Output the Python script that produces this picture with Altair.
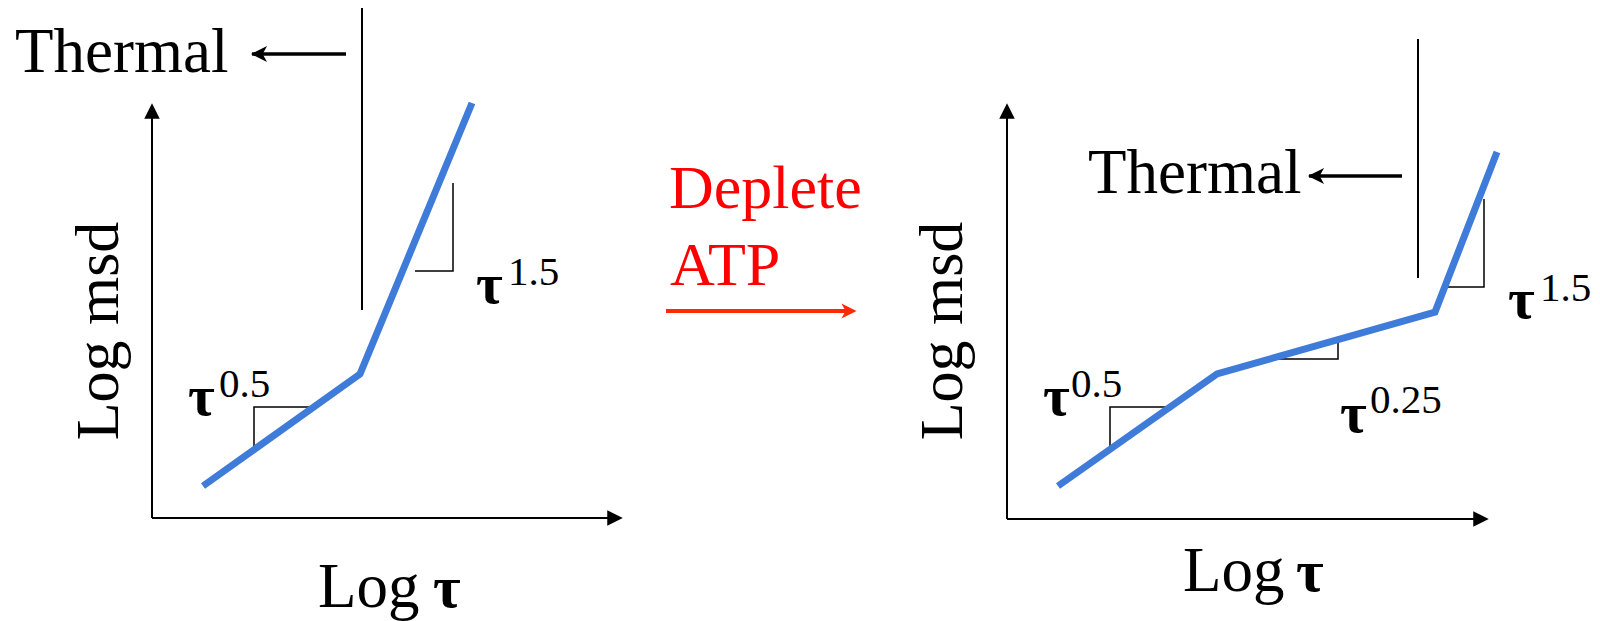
import altair as alt
import pandas as pd

# ---------------- figure frame (pixel-like figure units) ----------------
W, H, M = 1600, 621, 8

# ---------------- data ----------------
# blue MSD curves (Log tau, Log msd) in figure units
curve_id = ["left"] * 3 + ["right"] * 4
curve_x = [203, 360, 472, 1058, 1217, 1435, 1497]
curve_y = [486, 374, 103, 486, 374, 312, 152]

# axes (start -> arrow tip)
axis_x1 = [152, 152, 1007, 1007]
axis_y1 = [518, 518, 519, 519]
axis_x2 = [152, 614, 1007, 1480]
axis_y2 = [112, 518, 112, 519]

# thermal boundary lines
bound_x = [362, 1418]
bound_y1 = [7, 39]
bound_y2 = [310, 278]

# slope triangles (polylines)
tri_id = ["a"] * 3 + ["b"] * 3 + ["c"] * 3 + ["d"] * 3 + ["e"] * 3
tri_x = [254, 254, 314, 415, 453, 453, 1110, 1110, 1166, 1278, 1338, 1338, 1447, 1484, 1484]
tri_y = [450, 407, 407, 271, 271, 183, 446, 407, 407, 359, 359, 341, 287, 287, 199]

# "Thermal" arrows (shaft start -> tip)
th_x1 = [346, 1402]
th_x2 = [252, 1309]
th_y = [54, 176]

# Deplete ATP arrow
red_x1 = [666]
red_x2 = [856]
red_y = [311]

# texts
lbl_text = ["Thermal", "Thermal", "Log", "Log"]
lbl_x = [15, 1088, 318, 1183]
lbl_y = [72, 193, 607, 591]

axis_tau_x = [433, 1296]
axis_tau_y = [607, 591]

red_text = ["Deplete", "ATP"]
red_tx = [669, 670]
red_ty = [208, 285]

vlab_text = ["Log msd", "Log msd"]
vlab_x = [118, 962]
vlab_y = [331, 331]

tau_x = [188, 476, 1043, 1508, 1340]
tau_y = [415, 303, 415, 318, 432]
sup_text = ["0.5", "1.5", "0.5", "1.5", "0.25"]
sup_x = [219, 508, 1071, 1540, 1370]
sup_y = [397, 285, 397, 301, 413]

# ---------------- styling ----------------
FONT = "Liberation Serif"
BLUE = "#3F7BD8"

xs = alt.Scale(domain=[M, W - M], nice=False, zero=False)
ys = alt.Scale(domain=[M, H], nice=False, zero=False, reverse=True)


def X(f="x"):
    return alt.X(f"{f}:Q", scale=xs, axis=None)


def Y(f="y"):
    return alt.Y(f"{f}:Q", scale=ys, axis=None)


curves = alt.Chart(pd.DataFrame({"id": curve_id, "x": curve_x, "y": curve_y,
                                 "o": list(range(len(curve_x)))})).mark_line(
    color=BLUE, strokeWidth=7, strokeJoin="miter", strokeCap="butt"
).encode(x=X(), y=Y(), detail="id:N", order="o:Q")

axes = alt.Chart(pd.DataFrame({"x": axis_x1, "y": axis_y1, "x2": axis_x2, "y2": axis_y2})).mark_rule(
    color="black", strokeWidth=2
).encode(x=X(), y=Y(), x2="x2:Q", y2="y2:Q")

bounds = alt.Chart(pd.DataFrame({"x": bound_x, "y": bound_y1, "y2": bound_y2})).mark_rule(
    color="black", strokeWidth=2
).encode(x=X(), y=Y(), y2="y2:Q")

tris = alt.Chart(pd.DataFrame({"id": tri_id, "x": tri_x, "y": tri_y,
                               "o": list(range(len(tri_x)))})).mark_line(
    color="black", strokeWidth=1.5, strokeJoin="miter"
).encode(x=X(), y=Y(), detail="id:N", order="o:Q")

# arrowheads
UP = "M0,-1L1,1L-1,1Z"
RIGHT = "M1,0L-1,-1L-1,1Z"
STEALTH_L = "M-1,0L1,-1L0.45,0L1,1Z"
STEALTH_R = "M1,0L-1,-1L-0.45,0L-1,1Z"

head_up = alt.Chart(pd.DataFrame({"x": [axis_x2[0], axis_x2[2]],
                                  "y": [axis_y2[0] - 1, axis_y2[2] - 1]})).mark_point(
    shape=UP, filled=True, color="black", opacity=1, size=240, strokeWidth=0
).encode(x=X(), y=Y())

head_right = alt.Chart(pd.DataFrame({"x": [axis_x2[1] + 1, axis_x2[3] + 1],
                                     "y": [axis_y2[1], axis_y2[3]]})).mark_point(
    shape=RIGHT, filled=True, color="black", opacity=1, size=240, strokeWidth=0
).encode(x=X(), y=Y())

th_shaft = alt.Chart(pd.DataFrame({"x": th_x1, "x2": th_x2, "y": th_y})).mark_rule(
    color="black", strokeWidth=3.5
).encode(x=X(), x2="x2:Q", y=Y())

th_head = alt.Chart(pd.DataFrame({"x": [v + 7 for v in th_x2], "y": th_y})).mark_point(
    shape=STEALTH_L, filled=True, color="black", opacity=1, size=260, strokeWidth=0
).encode(x=X(), y=Y())

red_shaft = alt.Chart(pd.DataFrame({"x": red_x1, "x2": [v - 8 for v in red_x2], "y": red_y})).mark_rule(
    color="#FF2A00", strokeWidth=4
).encode(x=X(), x2="x2:Q", y=Y())

red_head = alt.Chart(pd.DataFrame({"x": [v - 7 for v in red_x2], "y": red_y})).mark_point(
    shape=STEALTH_R, filled=True, color="#FF2A00", opacity=1, size=230, strokeWidth=0
).encode(x=X(), y=Y())

labels = alt.Chart(pd.DataFrame({"t": lbl_text, "x": lbl_x, "y": lbl_y})).mark_text(
    font=FONT, fontSize=63, align="left", baseline="alphabetic", color="black"
).encode(x=X(), y=Y(), text="t:N")

axis_taus = alt.Chart(pd.DataFrame({"t": ["\u03c4"] * 2, "x": axis_tau_x, "y": axis_tau_y})).mark_text(
    font=FONT, fontSize=60, fontWeight="bold", align="left", baseline="alphabetic", color="black"
).encode(x=X(), y=Y(), text="t:N")

red_labels = alt.Chart(pd.DataFrame({"t": red_text, "x": red_tx, "y": red_ty})).mark_text(
    font=FONT, fontSize=62, align="left", baseline="alphabetic", color="#FF0000"
).encode(x=X(), y=Y(), text="t:N")

vlabels = alt.Chart(pd.DataFrame({"t": vlab_text, "x": vlab_x, "y": vlab_y})).mark_text(
    font=FONT, fontSize=62, align="center", baseline="alphabetic", angle=270, color="black"
).encode(x=X(), y=Y(), text="t:N")

taus = alt.Chart(pd.DataFrame({"t": ["\u03c4"] * len(tau_x), "x": tau_x, "y": tau_y})).mark_text(
    font=FONT, fontSize=58, fontWeight="bold", align="left", baseline="alphabetic", color="black"
).encode(x=X(), y=Y(), text="t:N")

sups = alt.Chart(pd.DataFrame({"t": sup_text, "x": sup_x, "y": sup_y})).mark_text(
    font=FONT, fontSize=41, align="left", baseline="alphabetic", color="black"
).encode(x=X(), y=Y(), text="t:N")

chart = alt.layer(
    axes, bounds, tris, th_shaft, red_shaft, curves,
    head_up, head_right, th_head, red_head,
    labels, axis_taus, red_labels, vlabels, taus, sups
).properties(
    width=W - 2 * M, height=H - M, padding=0,
    autosize=alt.AutoSizeParams(type="none"),
    background="white",
).configure_view(stroke=None)

chart.save("out.html", embed_options={"renderer": "svg", "actions": False})
